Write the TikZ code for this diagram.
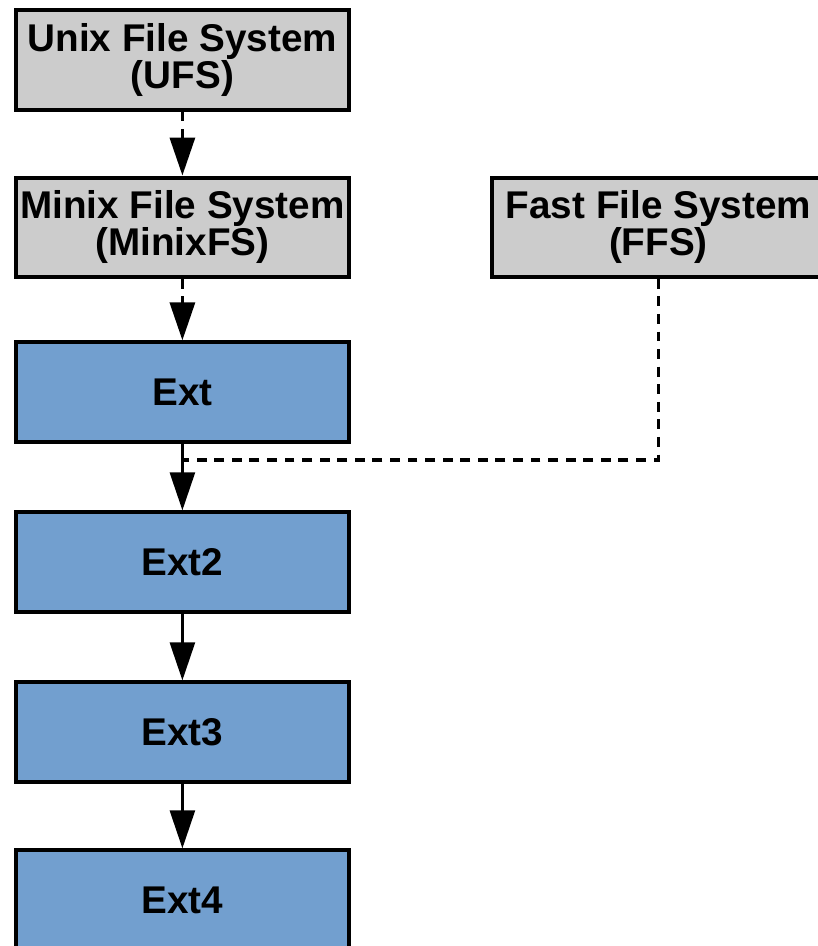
\documentclass[tikz,border=0pt]{standalone}
\usepackage{fontspec}
\setmainfont{Liberation Sans}
\usetikzlibrary{arrows.meta}
\definecolor{fsgray}{HTML}{CCCCCC}
\definecolor{fsblue}{HTML}{729FCF}
\tikzset{
  fsbox/.style={rectangle,draw,line width=0.1cm,minimum width=8.33cm,minimum height=2.48cm,
    align=center,inner sep=0pt,font=\fontsize{27.5}{23}\selectfont\bfseries},
  oldfs/.style={fsbox,fill=fsgray},
  extfs/.style={fsbox,fill=fsblue},
  dotted link/.style={line width=0.095cm,dash pattern=on 7pt off 5.5pt},
  link/.style={line width=0.08cm,-{Triangle[length=0.95cm,width=0.62cm]}},
  dashlink/.style={link,dotted link}
}
\begin{document}
\begin{tikzpicture}
    \useasboundingbox (0,0) rectangle (20.45,-23.65);
    \clip (0,0) rectangle (20.45,-23.65);
    \path (4.56,-1.5) node [oldfs](ufs){Unix File System\\(UFS)};
    \path (4.56,-5.68) node [oldfs](minixfs){Minix File System\\(MinixFS)};
    \path (16.46,-5.68) node [oldfs](ffs){Fast File System\\(FFS)};
    \path (4.56,-9.8) node [extfs](ext){Ext}
          (4.56,-14.05) node [extfs](ext2){Ext2}
          (4.56,-18.3) node [extfs](ext3){Ext3}
          (4.56,-22.5) node [extfs](ext4){Ext4};
    \coordinate (merge) at ([yshift=-0.4cm]ext.south);
    \draw[dashlink] (ufs) -- (minixfs);
    \draw[dashlink] (minixfs) -- (ext);
    \draw[link] (ext) -- (ext2);
    \draw[dotted link] (ffs.south) |- (merge);
    \draw[link] (ext2) -- (ext3);
    \draw[link] (ext3) -- (ext4);
  \end{tikzpicture}
\end{document}
